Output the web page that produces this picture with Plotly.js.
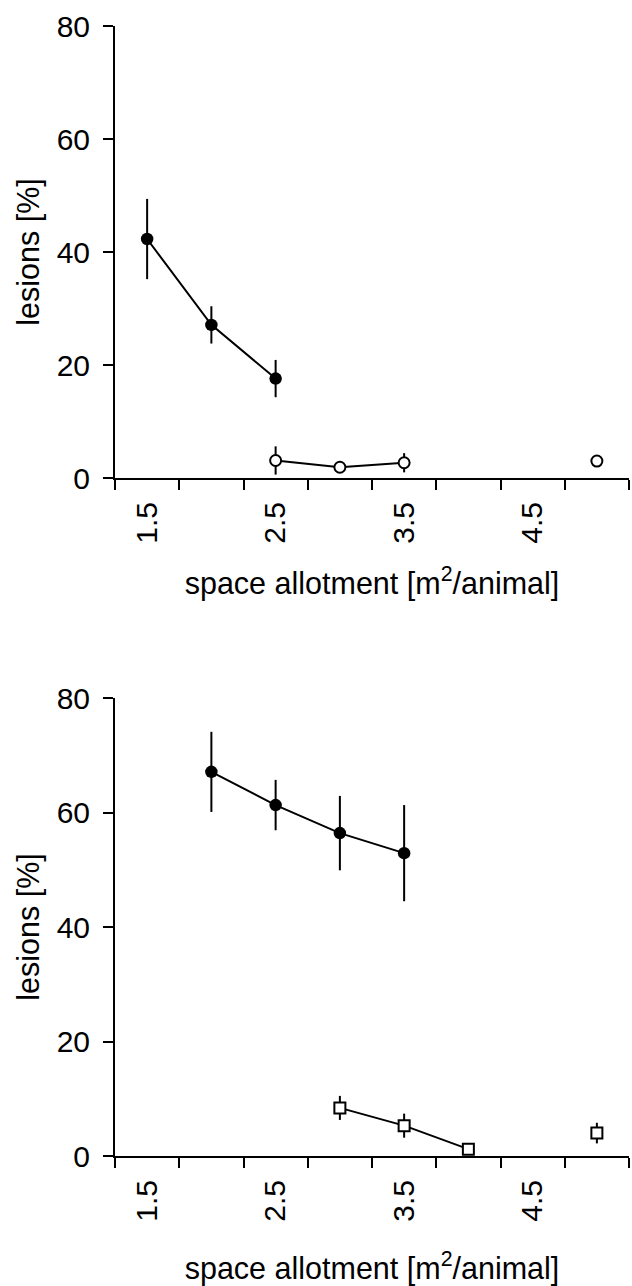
<!DOCTYPE html>
<html>
<head>
<meta charset="utf-8">
<script src="https://cdn.plot.ly/plotly-3.0.1.min.js"></script>
<style>html,body{margin:0;padding:0;background:#fff;}#chart{width:632px;height:1286px;}</style>
</head>
<body>
<div id="chart"></div>
<script>
// ---- data ----
// top panel
const topFilledX = [1.5, 2.0, 2.5];
const topFilledY = [42.3, 27.1, 17.6];
const topFilledErr = [7.1, 3.3, 3.3];

const topOpenX = [2.5, 3.0, 3.5];
const topOpenY = [3.1, 1.9, 2.7];
const topOpenErr = [2.5, 1.0, 1.7];

const topSingleX = [5.0];
const topSingleY = [3.0];
const topSingleErr = [0.7];

// bottom panel
const botFilledX = [2.0, 2.5, 3.0, 3.5];
const botFilledY = [67.1, 61.3, 56.4, 52.9];
const botFilledErr = [7.0, 4.4, 6.5, 8.4];

const botSquareX = [3.0, 3.5, 4.0];
const botSquareY = [8.4, 5.3, 1.2];
const botSquareErr = [2.1, 2.1, 0];

const botSingleX = [5.0];
const botSingleY = [4.0];
const botSingleErr = [1.8];

const xTickVals = [1.5, 2.5, 3.5, 4.5];
const xTickText = ['1.5', '2.5', '3.5', '4.5'];
const yTickVals = [0, 20, 40, 60, 80];

const xTitle = 'space allotment [m<sup>2</sup>/animal]';
const yTitle = 'lesions [%]';

// ---- drawing ----
const FONT = 'Liberation Sans, Arial, sans-serif';
function errBar(arr){ return {type:'data', array:arr, visible:true, color:'#000', thickness:2, width:0}; }
function tr(x, y, err, xa, ya, mode, marker){
  return {x:x, y:y, xaxis:xa, yaxis:ya, mode:mode, type:'scatter', error_y:errBar(err),
          line:{color:'#000', width:2}, marker:marker, cliponaxis:false, showlegend:false, hoverinfo:'x+y'};
}
const filled = {symbol:'circle', size:12.5, color:'#000', line:{color:'#000', width:0}};
const openC = {symbol:'circle', size:11, color:'#fff', line:{color:'#000', width:2}};
const openS = {symbol:'square', size:11, color:'#fff', line:{color:'#000', width:2}};

const data = [
  tr(topOpenX, topOpenY, topOpenErr, 'x', 'y', 'lines+markers', openC),
  tr(topSingleX, topSingleY, topSingleErr, 'x', 'y', 'markers', openC),
  tr(topFilledX, topFilledY, topFilledErr, 'x', 'y', 'lines+markers', filled),
  tr(botSquareX, botSquareY, botSquareErr, 'x2', 'y2', 'lines+markers', openS),
  tr(botSingleX, botSingleY, botSingleErr, 'x2', 'y2', 'markers', openS),
  tr(botFilledX, botFilledY, botFilledErr, 'x2', 'y2', 'lines+markers', filled)
];

function xAxis(anchor, standoff){
  return {anchor:anchor, range:[1.25, 5.25], showgrid:false, zeroline:false,
    showline:true, linecolor:'#000', linewidth:2,
    tickmode:'array', tickvals:xTickVals, ticktext:xTickText, ticks:'', tickangle:-90,
    ticklabelstandoff:10,
    tickfont:{family:FONT, size:30, color:'#000'},
    minor:{tickmode:'linear', tick0:1.25, dtick:0.5, ticks:'outside', ticklen:10, tickwidth:2, tickcolor:'#000', showgrid:false},
    title:{text:xTitle, font:{family:FONT, size:30.5, color:'#000'}, standoff:standoff}
  };
}
function yAxis(anchor, domain){
  return {anchor:anchor, domain:domain, range:[0, 80], showgrid:false, zeroline:false,
    showline:true, linecolor:'#000', linewidth:2,
    tickmode:'array', tickvals:yTickVals, ticks:'outside', ticklen:10, tickwidth:2, tickcolor:'#000',
    ticklabelstandoff:7,
    tickfont:{family:FONT, size:30, color:'#000'},
    title:{text:yTitle, font:{family:FONT, size:30.5, color:'#000'}, standoff:8}
  };
}

const layout = {
  width:632, height:1286,
  margin:{l:115, r:3, t:26, b:130},
  paper_bgcolor:'#fff', plot_bgcolor:'#fff',
  font:{family:FONT, color:'#000'},
  xaxis: xAxis('y', 30),
  yaxis: yAxis('x', [0.6, 1]),
  xaxis2: xAxis('y2', 39),
  yaxis2: yAxis('x2', [0, 0.4053]),
  showlegend:false
};

Plotly.newPlot('chart', data, layout, {displayModeBar:false, staticPlot:true});
</script>
</body>
</html>
